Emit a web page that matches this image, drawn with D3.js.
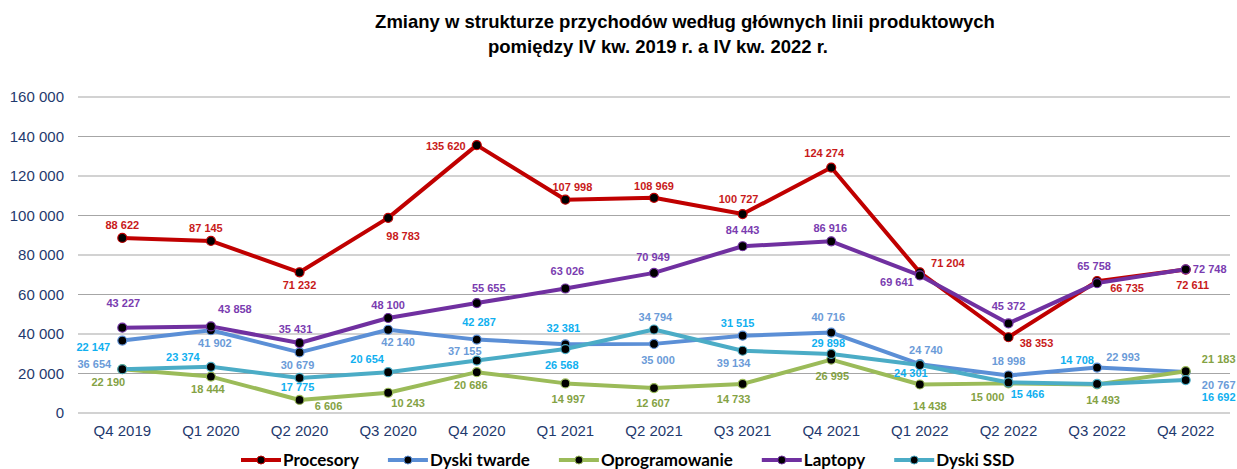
<!DOCTYPE html>
<html>
<head>
<meta charset="utf-8">
<script src="https://cdn.jsdelivr.net/npm/d3@7"></script>
<style>
	body { margin: 0; background: #fff; }
	svg { display: block; font-family: "Liberation Sans", Arial, sans-serif; }
	.grid line { stroke: #a6a6a6; stroke-width: 1.2; }
	.tick-label { fill: #1f3a6e; font-size: 15px; }
	.val { font-size: 11px; font-weight: bold; }
</style>
</head>
<body>
<svg width="1237" height="469"></svg>
<script>
var categories = ["Q4 2019", "Q1 2020", "Q2 2020", "Q3 2020", "Q4 2020", "Q1 2021", "Q2 2021",
	"Q3 2021", "Q4 2021", "Q1 2022", "Q2 2022", "Q3 2022", "Q4 2022"];
var yTicks = [0, 20000, 40000, 60000, 80000, 100000, 120000, 140000, 160000];

var procesory = [88622, 87145, 71232, 98783, 135620, 107998, 108969, 100727, 124274, 71204, 38353, 66735, 72611];
var dyskiTwarde = [36654, 41902, 30679, 42140, 37155, 34794, 35000, 39134, 40716, 24740, 18998, 22993, 20767];
var oprogramowanie = [22190, 18444, 6606, 10243, 20686, 14997, 12607, 14733, 26995, 14438, 15000, 14493, 21183];
var laptopy = [43227, 43858, 35431, 48100, 55655, 63026, 70949, 84443, 86916, 69641, 45372, 65758, 72748];
var dyskiSSD = [22147, 23374, 17775, 20654, 26568, 32381, 42287, 31515, 29898, 24301, 15466, 14708, 16692];

// where each value label sits, relative to its point (as in the original Excel chart)
var offProcesory = [[0,-13],[-5,-13],[0,13],[15,18],[-31,1],[7,-13],[0,-12],[-4,-15],[-7,-14],[28,-9],[28,6],[30,7],[7,16]];
var offDyskiTwarde = [[-28,24],[4,13],[-2,13],[10,12],[-12,12],[90,-27],[4,16],[-9,27],[-3,-15],[6,-14],[0,-14],[26,-10],[33,13]];
var offOprogramowanie = [[-14,13],[-3,13],[29,6],[20,10],[-6,13],[3,16],[-1,15],[-9,15],[1,16],[10,22],[-21,14],[6,16],[33,-12]];
var offLaptopy = [[1,-24],[24,-17],[-4,-14],[0,-13],[12,-15],[2,-17],[-1,-16],[0,-16],[-1,-13],[-23,7],[0,-17],[-3,-17],[24,0]];
var offDyskiSSD = [[-29,-22],[-28,-10],[-2,9],[-21,-13],[85,5],[-2,-21],[-175,-7],[-5,-28],[-3,-11],[-9,8],[19,12],[-20,-24],[33,17]];

var series = [
	{ name: "Procesory", values: procesory, offsets: offProcesory, color: "#c00000", label: "#c81a1a" },
	{ name: "Dyski twarde", values: dyskiTwarde, offsets: offDyskiTwarde, color: "#5b8fd6", label: "#6b9bd8" },
	{ name: "Oprogramowanie", values: oprogramowanie, offsets: offOprogramowanie, color: "#9bbb59", label: "#84a244" },
	{ name: "Laptopy", values: laptopy, offsets: offLaptopy, color: "#7030a0", label: "#7a3cb0" },
	{ name: "Dyski SSD", values: dyskiSSD, offsets: offDyskiSSD, color: "#4bacc6", label: "#10b0f0" }
];

var svg = d3.select("svg");
var plotLeft = 78, plotRight = 1230, plotTop = 97, plotBottom = 413;

var x = d3.scalePoint().domain(categories).range([plotLeft, plotRight]).padding(0.5);
var y = d3.scaleLinear().domain([0, 160000]).range([plotBottom, plotTop]);
var fmt = function(v) { return d3.format(",")(v).replace(/,/g, " "); };

// title
var title = svg.append("g").attr("font-weight", "bold").attr("font-size", "18.5px").attr("text-anchor", "middle");
title.append("text").attr("x", 685).attr("y", 22).attr("dy", ".35em")
	.text("Zmiany w strukturze przychodów według głównych linii produktowych");
title.append("text").attr("x", 658).attr("y", 47).attr("dy", ".35em")
	.text("pomiędzy IV kw. 2019 r. a IV kw. 2022 r.");

// grid
svg.append("g").attr("class", "grid").selectAll("line")
	.data(yTicks)
	.enter().append("line")
	.attr("x1", plotLeft).attr("x2", plotRight)
	.attr("y1", function(d) { return y(d); }).attr("y2", function(d) { return y(d); });

svg.append("g").selectAll("text")
	.data(yTicks)
	.enter().append("text")
	.attr("class", "tick-label")
	.attr("x", 64).attr("y", function(d) { return y(d); })
	.attr("dy", ".35em").attr("text-anchor", "end")
	.text(fmt);

svg.append("g").selectAll("text")
	.data(categories)
	.enter().append("text")
	.attr("class", "tick-label")
	.attr("x", function(d) { return x(d); }).attr("y", 431)
	.attr("dy", ".35em").attr("text-anchor", "middle")
	.text(function(d) { return d; });

// lines
var line = d3.line()
	.x(function(d, i) { return x(categories[i]); })
	.y(function(d) { return y(d); });

series.forEach(function(s) {
	var g = svg.append("g");
	g.append("path")
		.attr("d", line(s.values))
		.attr("fill", "none")
		.attr("stroke", s.color)
		.attr("stroke-width", 4)
		.attr("stroke-linejoin", "round");
	g.selectAll("circle")
		.data(s.values)
		.enter().append("circle")
		.attr("cx", function(d, i) { return x(categories[i]); })
		.attr("cy", function(d) { return y(d); })
		.attr("r", 4.5)
		.attr("fill", "#000")
		.attr("stroke", s.color)
		.attr("stroke-width", 1.2);
});

series.forEach(function(s) {
	svg.append("g").selectAll("text")
		.data(s.values)
		.enter().append("text")
		.attr("class", "val")
		.attr("fill", s.label)
		.attr("text-anchor", "middle")
		.attr("x", function(d, i) { return x(categories[i]) + s.offsets[i][0]; })
		.attr("y", function(d, i) { return y(d) + s.offsets[i][1]; })
		.attr("dy", ".35em")
		.text(fmt);
});

// legend
var legend = svg.append("g").attr("transform", "translate(241,460)");
var lx = 0;
series.forEach(function(s) {
	var item = legend.append("g").attr("transform", "translate(" + lx + ",0)");
	item.append("line").attr("x1", 0).attr("x2", 40).attr("y1", 0).attr("y2", 0)
		.attr("stroke", s.color).attr("stroke-width", 4);
	item.append("circle").attr("cx", 20).attr("cy", 0).attr("r", 4)
		.attr("fill", "#000").attr("stroke", s.color).attr("stroke-width", 1);
	var t = item.append("text").attr("x", 42).attr("y", 0).attr("dy", ".35em")
		.attr("font-family", "Lato, sans-serif").attr("font-weight", "bold").attr("font-size", "17px")
		.text(s.name);
	lx += 42 + t.node().getComputedTextLength() + 29;
});
</script>
</body>
</html>
